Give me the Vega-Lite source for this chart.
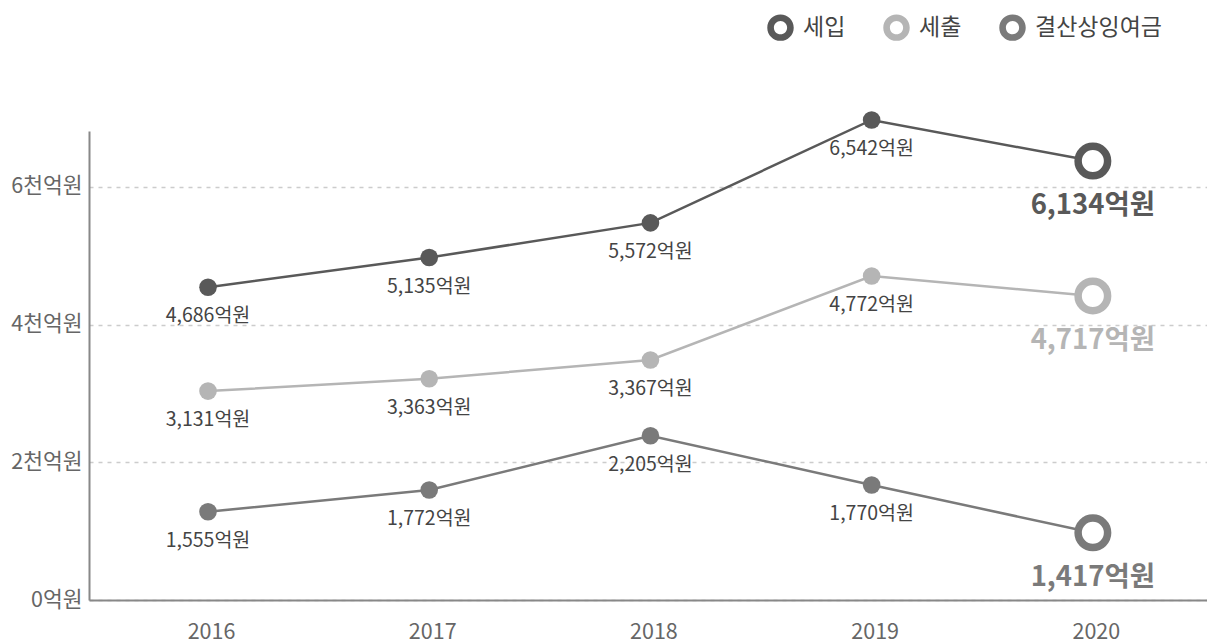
{
  "$schema": "https://vega.github.io/schema/vega-lite/v6.json",
  "width": 1118,
  "height": 469,
  "autosize": "none",
  "padding": {"left": 89, "top": 131, "right": 0, "bottom": 43},
  "background": "white",
  "config": {"view": {"stroke": null}, "font": "Noto Sans CJK KR"},
  "data": {"values": [
    {"year": 2016, "series": "세입", "value": 4543, "label": "4,686억원"},
    {"year": 2017, "series": "세입", "value": 4975, "label": "5,135억원"},
    {"year": 2018, "series": "세입", "value": 5478, "label": "5,572억원"},
    {"year": 2019, "series": "세입", "value": 6973, "label": "6,542억원"},
    {"year": 2020, "series": "세입", "value": 6376, "label": "6,134억원"},
    {"year": 2016, "series": "세출", "value": 3035, "label": "3,131억원"},
    {"year": 2017, "series": "세출", "value": 3214, "label": "3,363억원"},
    {"year": 2018, "series": "세출", "value": 3487, "label": "3,367억원"},
    {"year": 2019, "series": "세출", "value": 4706, "label": "4,772억원"},
    {"year": 2020, "series": "세출", "value": 4417, "label": "4,717억원"},
    {"year": 2016, "series": "결산상잉여금", "value": 1283, "label": "1,555억원"},
    {"year": 2017, "series": "결산상잉여금", "value": 1597, "label": "1,772억원"},
    {"year": 2018, "series": "결산상잉여금", "value": 2387, "label": "2,205억원"},
    {"year": 2019, "series": "결산상잉여금", "value": 1671, "label": "1,770억원"},
    {"year": 2020, "series": "결산상잉여금", "value": 976, "label": "1,417억원"}
  ]},
  "encoding": {
    "x": {"field": "year", "type": "quantitative",
      "scale": {"domain": [2015.462, 2020.516], "nice": false, "zero": false},
      "axis": {"values": [2016, 2017, 2018, 2019, 2020], "format": "d", "title": null,
        "labelFontSize": 21.5, "labelColor": "#666", "labelPadding": 21, "labelOffset": 3,
        "domainColor": "#888", "domainWidth": 2, "ticks": false, "grid": false, "labelFlush": false}},
    "y": {"field": "value", "type": "quantitative",
      "scale": {"domain": [0, 6813], "nice": false},
      "axis": {"values": [0, 2000, 4000, 6000], "title": null,
        "labelExpr": "datum.value == 0 ? '0억원' : (datum.value / 1000) + '천억원'",
        "labelFontSize": 21.5, "labelColor": "#666", "labelPadding": 7,
        "domainColor": "#888", "domainWidth": 2, "ticks": false,
        "grid": true, "gridColor": "#cccccc", "gridDash": [4, 5], "gridWidth": 1.5}}
  },
  "layer": [
    {
      "mark": {"type": "line", "strokeWidth": 2.5},
      "encoding": {
        "color": {"field": "series", "type": "nominal",
          "scale": {"domain": ["세입", "세출", "결산상잉여금"], "range": ["#595959", "#b5b5b5", "#7a7a7a"]},
          "legend": {"orient": "none", "legendX": 678, "legendY": -117, "direction": "horizontal",
            "title": null,
            "symbolType": "M -1 0 A 1 1 0 1 0 1 0 A 1 1 0 1 0 -1 0 Z M -0.5 0 A 0.5 0.5 0 1 1 0.5 0 A 0.5 0.5 0 1 1 -0.5 0 Z",
            "symbolSize": 700, "symbolStrokeWidth": 0,
            "labelFontSize": 23, "labelColor": "#444",
            "columnPadding": 37, "labelOffset": 9}}
      }
    },
    {
      "transform": [{"filter": "datum.year < 2020"}],
      "mark": {"type": "point", "shape": "circle", "filled": true, "size": 310, "opacity": 1, "strokeWidth": 0},
      "encoding": {"fill": {"field": "series", "type": "nominal",
        "scale": {"domain": ["세입", "세출", "결산상잉여금"], "range": ["#595959", "#b5b5b5", "#7a7a7a"]},
        "legend": null}}
    },
    {
      "transform": [{"filter": "datum.year == 2020"}],
      "mark": {"type": "point", "shape": "circle", "filled": false, "fill": "white", "fillOpacity": 1, "size": 870, "strokeWidth": 7.5, "opacity": 1},
      "encoding": {"color": {"field": "series", "type": "nominal"}}
    },
    {
      "transform": [{"filter": "datum.year < 2020"}],
      "mark": {"type": "text", "dy": 29, "fontSize": 19.5, "color": "#444", "align": "center", "baseline": "middle"},
      "encoding": {"text": {"field": "label"}}
    },
    {
      "transform": [{"filter": "datum.year == 2020"}],
      "mark": {"type": "text", "dy": 45, "fontSize": 27.5, "fontWeight": "bold", "align": "center", "baseline": "middle"},
      "encoding": {"text": {"field": "label"}, "fill": {"field": "series", "type": "nominal", "legend": null}}
    }
  ]
}
